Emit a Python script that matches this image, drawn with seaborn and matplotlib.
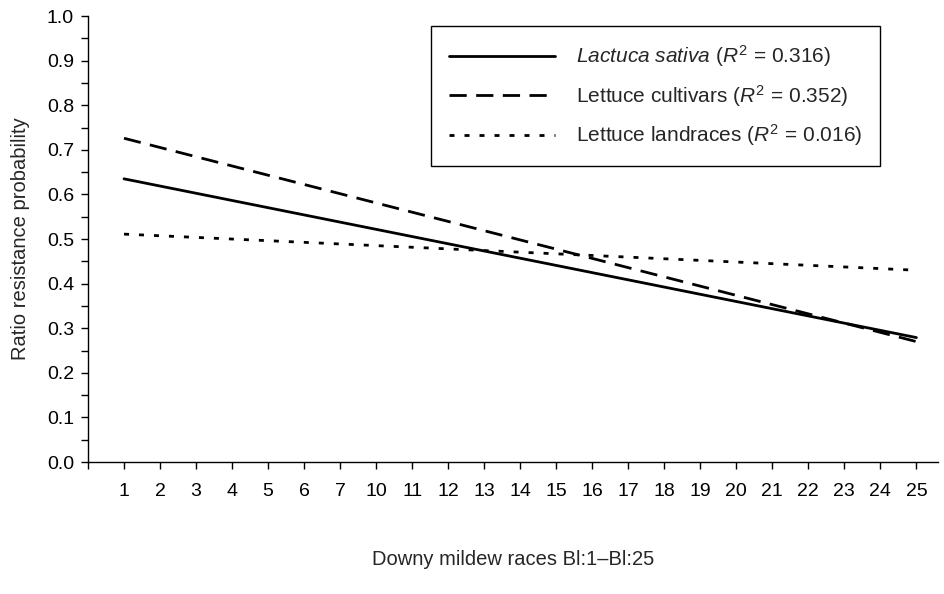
import numpy as np
import pandas as pd
import matplotlib
matplotlib.use("Agg")
import matplotlib.pyplot as plt
from matplotlib.ticker import MultipleLocator
import seaborn as sns

# tick labels on the x axis (races 8 and 9 are not shown)
race_labels = ["1", "2", "3", "4", "5", "6", "7", "10", "11", "12", "13", "14",
               "15", "16", "17", "18", "19", "20", "21", "22", "23", "24", "25"]

# fitted line values at the first and last race
sativa_vals = [0.635, 0.279]
cultivar_vals = [0.726, 0.270]
landrace_vals = [0.511, 0.430]

series_names = [r"$\it{Lactuca\ sativa}$ ($R^2$ = 0.316)",
                r"Lettuce cultivars ($R^2$ = 0.352)",
                r"Lettuce landraces ($R^2$ = 0.016)"]

sns.set_theme(style="ticks")
plt.rcParams['font.family'] = ['Liberation Sans', 'DejaVu Sans']
plt.rcParams['mathtext.fontset'] = 'custom'
plt.rcParams['mathtext.rm'] = 'Liberation Sans'
plt.rcParams['mathtext.it'] = 'Liberation Sans:italic'

pos = np.arange(1, len(race_labels) + 1)
ends = [pos[0], pos[-1]]
df = pd.DataFrame({
    "x": ends * 3,
    "y": sativa_vals + cultivar_vals + landrace_vals,
    "series": [series_names[0]] * 2 + [series_names[1]] * 2 + [series_names[2]] * 2,
})

fig = plt.figure(figsize=(9.45, 5.94), dpi=100)
ax = fig.add_axes([0.0931, 0.2222, 0.8995, 0.7508])

dash_map = {series_names[0]: "", series_names[1]: (6.2, 3.4), series_names[2]: (1.8, 3.6)}
sns.lineplot(data=df, x="x", y="y", style="series", style_order=series_names,
             dashes=dash_map, color="black", linewidth=2, ax=ax)

ax.set_xlim(0, 23.6)
ax.set_ylim(0, 1.0)
ax.set_xticks(np.arange(0, len(race_labels) + 1))
ax.set_xticklabels([""] + race_labels)
ax.yaxis.set_major_locator(MultipleLocator(0.1))
ax.yaxis.set_minor_locator(MultipleLocator(0.05))
ax.yaxis.set_major_formatter(matplotlib.ticker.FormatStrFormatter("%.1f"))
ax.tick_params(axis="both", which="both", direction="out", length=5, width=1,
               labelsize=14, color="black", labelcolor="black")
ax.tick_params(axis="x", pad=10)
ax.tick_params(axis="y", pad=5)

for side in ["top", "right"]:
    ax.spines[side].set_visible(False)
for side in ["left", "bottom"]:
    ax.spines[side].set_color("black")
    ax.spines[side].set_linewidth(1)

ax.set_xlabel("Downy mildew races Bl:1\u2013Bl:25", fontsize=14.5, labelpad=36)
ax.set_ylabel("Ratio resistance probability", fontsize=14.5, labelpad=12)

leg = ax.legend(loc="upper right", bbox_to_anchor=(0.932, 0.978), fontsize=15,
                handlelength=5.1, handletextpad=1.0, labelspacing=0.65,
                borderpad=0.85, borderaxespad=0, fancybox=False, framealpha=1,
                edgecolor="black", title=None)
leg.get_frame().set_linewidth(1)

fig.savefig("out.png", dpi=100)
